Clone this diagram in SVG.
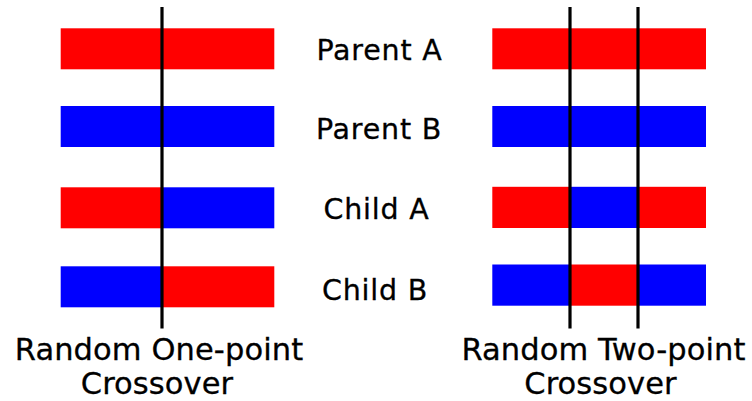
<svg xmlns="http://www.w3.org/2000/svg" width="752" height="401" viewBox="0 0 752 401">
  <style>
    .red { fill: #ff0000; }
    .blue { fill: #0000ff; }
    .cut { stroke: #000000; stroke-width: 3.2; fill: none; }
    .row { font-family: "DejaVu Sans", "Liberation Sans", sans-serif; font-size: 28.5px; letter-spacing: 0.8px; fill: #000000; stroke: #000000; stroke-width: 0.3; text-anchor: middle; }
    .cap { font-family: "DejaVu Sans", "Liberation Sans", sans-serif; font-size: 30.5px; letter-spacing: 0.1px; fill: #000000; stroke: #000000; stroke-width: 0.3; text-anchor: middle; }
  </style>
  <rect width="752" height="401" fill="#ffffff"/>

  <!-- One-point crossover -->
  <g id="one-point">
    <g id="one-parent-a">
      <rect class="red" x="60.7" y="28.3" width="213.6" height="41"/>
    </g>
    <g id="one-parent-b">
      <rect class="blue" x="60.7" y="106" width="213.6" height="41"/>
    </g>
    <g id="one-child-a">
      <rect class="red" x="60.7" y="187.3" width="101.3" height="41"/>
      <rect class="blue" x="162" y="187.3" width="112.3" height="41"/>
    </g>
    <g id="one-child-b">
      <rect class="blue" x="60.7" y="266.3" width="101.3" height="41"/>
      <rect class="red" x="162" y="266.3" width="112.3" height="41"/>
    </g>
  </g>

  <!-- Two-point crossover -->
  <g id="two-point">
    <g id="two-parent-a">
      <rect class="red" x="492.3" y="28.3" width="213.7" height="41"/>
    </g>
    <g id="two-parent-b">
      <rect class="blue" x="492.3" y="106" width="213.7" height="41"/>
    </g>
    <g id="two-child-a">
      <rect class="red" x="492.3" y="186.8" width="77.7" height="41.2"/>
      <rect class="blue" x="570" y="186.8" width="68" height="41.2"/>
      <rect class="red" x="638" y="186.8" width="68" height="41.2"/>
    </g>
    <g id="two-child-b">
      <rect class="blue" x="492.3" y="264.5" width="77.7" height="41.2"/>
      <rect class="red" x="570" y="264.5" width="68" height="41.2"/>
      <rect class="blue" x="638" y="264.5" width="68" height="41.2"/>
    </g>
  </g>

  <!-- Crossover cut lines -->
  <g id="cuts">
    <line class="cut" x1="162" y1="7" x2="162" y2="328.5"/>
    <line class="cut" x1="570" y1="7" x2="570" y2="328.5"/>
    <line class="cut" x1="638" y1="7" x2="638" y2="328.5"/>
  </g>

  <!-- Row labels -->
  <g id="labels">
    <text class="row" x="379.5" y="60.3">Parent A</text>
    <text class="row" x="379" y="138.8">Parent B</text>
    <text class="row" x="376.5" y="218.5">Child A</text>
    <text class="row" x="375" y="300">Child B</text>
  </g>

  <!-- Captions -->
  <g id="captions">
    <text class="cap" x="159" y="359.5">Random One-point</text>
    <text class="cap" x="157" y="393.5">Crossover</text>
    <text class="cap" x="603.5" y="359.5">Random Two-point</text>
    <text class="cap" x="600.5" y="393.5">Crossover</text>
  </g>
</svg>
